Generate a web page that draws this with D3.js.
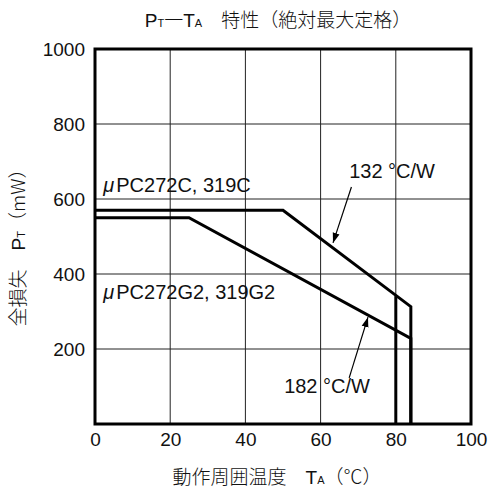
<!DOCTYPE html>
<html>
<head>
<meta charset="utf-8">
<script src="https://cdn.jsdelivr.net/npm/d3@7"></script>
<style>
  body { margin: 0; background: #fff; }
  text { font-family: "Liberation Sans", "Noto Sans CJK JP", sans-serif; fill: #111; }
  .cjk { font-family: "Noto Sans CJK JP", sans-serif; font-weight: 300; }
</style>
</head>
<body>
<svg></svg>
<script>
const width = 489;
const height = 496;

// ambient temperature (°C) vs total power dissipation (mW)
const curveDip = [[0, 570], [50, 570], [84, 313], [84, 0]];     // 132 °C/W
const curveSop = [[0, 550], [25, 550], [84, 228], [84, 0]];     // 182 °C/W
const limit80 = [[80, 341], [80, 0]];
const xTicks = [0, 20, 40, 60, 80, 100];
const yTicks = [200, 400, 600, 800, 1000];

const margin = { top: 49, right: 18, bottom: 72, left: 95 };

const svg = d3.select("svg").attr("width", width).attr("height", height);

const x = d3.scaleLinear().domain([0, 100]).range([margin.left, width - margin.right]);
const y = d3.scaleLinear().domain([0, 1000]).range([height - margin.bottom, margin.top]);

// grid
svg.append("g")
  .selectAll("line")
  .data([20, 40, 60, 80])
  .join("line")
  .attr("x1", (d) => x(d)).attr("x2", (d) => x(d))
  .attr("y1", y(0)).attr("y2", y(1000))
  .attr("stroke", "#222").attr("stroke-width", 1);

svg.append("g")
  .selectAll("line")
  .data([200, 400, 600, 800])
  .join("line")
  .attr("x1", x(0)).attr("x2", x(100))
  .attr("y1", (d) => y(d)).attr("y2", (d) => y(d))
  .attr("stroke", "#222").attr("stroke-width", 1);

// frame
svg.append("rect")
  .attr("x", x(0)).attr("y", y(1000))
  .attr("width", x(100) - x(0)).attr("height", y(0) - y(1000))
  .attr("fill", "none").attr("stroke", "#000").attr("stroke-width", 3);

// axes (labels only)
const xAxis = svg.append("g")
  .attr("transform", `translate(0,${y(0)})`)
  .call(d3.axisBottom(x).tickValues(xTicks).tickFormat(d3.format("d")).tickSize(0).tickPadding(9));
const yAxis = svg.append("g")
  .attr("transform", `translate(${x(0)},0)`)
  .call(d3.axisLeft(y).tickValues(yTicks).tickFormat(d3.format("d")).tickSize(0).tickPadding(10));
[xAxis, yAxis].forEach((g) => {
  g.select(".domain").remove();
  g.selectAll("text")
    .attr("font-family", "Liberation Sans, sans-serif")
    .attr("font-size", 19)
    .attr("fill", "#111");
});

// curves
const line = d3.line().x((d) => x(d[0])).y((d) => y(d[1]));
svg.selectAll("path.curve")
  .data([curveDip, curveSop, limit80])
  .join("path")
  .attr("class", "curve")
  .attr("d", line)
  .attr("fill", "none")
  .attr("stroke", "#000")
  .attr("stroke-width", 3)
  .attr("stroke-linejoin", "miter");

// arrows
svg.append("defs").append("marker")
  .attr("id", "arrow")
  .attr("viewBox", "0 0 10 10")
  .attr("refX", 10).attr("refY", 5)
  .attr("markerWidth", 10).attr("markerHeight", 10)
  .attr("markerUnits", "userSpaceOnUse")
  .attr("orient", "auto")
  .append("path")
  .attr("d", "M0,1.5 L10,5 L0,8.5 Z")
  .attr("fill", "#000");

const arrows = [
  { from: [68.2, 632], to: [63.3, 483] },
  { from: [67.6, 123], to: [72.6, 285] },
];
svg.selectAll("line.arrow")
  .data(arrows)
  .join("line")
  .attr("x1", (d) => x(d.from[0])).attr("y1", (d) => y(d.from[1]))
  .attr("x2", (d) => x(d.to[0])).attr("y2", (d) => y(d.to[1]))
  .attr("stroke", "#000").attr("stroke-width", 1.2)
  .attr("marker-end", "url(#arrow)");

// curve labels
const labels = [
  { t: "μ", rest: "PC272C, 319C", at: [2.2, 620] },
  { t: "μ", rest: "PC272G2, 319G2", at: [2.2, 333] },
];
labels.forEach((l) => {
  const tx = svg.append("text")
    .attr("x", x(l.at[0])).attr("y", y(l.at[1]))
    .attr("font-size", 20);
  tx.append("tspan").attr("font-style", "italic").text(l.t);
  tx.append("tspan").attr("dx", 2).text(l.rest);
});

svg.append("text")
  .attr("x", x(67.6)).attr("y", y(655))
  .attr("font-size", 20)
  .text("132 °C/W");
svg.append("text")
  .attr("x", x(50.3)).attr("y", y(82))
  .attr("font-size", 20)
  .text("182 °C/W");

// title
const title = svg.append("text")
  .attr("x", 278).attr("y", 27)
  .attr("text-anchor", "middle")
  .attr("font-size", 19);
title.append("tspan").text("P");
title.append("tspan").attr("font-size", 11).text("T");
title.append("tspan").attr("class", "cjk").text("一");
title.append("tspan").text("T");
title.append("tspan").attr("font-size", 11).text("A");
title.append("tspan").attr("class", "cjk").text("　特性（絶対最大定格）");

// x title
const xt = svg.append("text")
  .attr("x", 277).attr("y", 484)
  .attr("text-anchor", "middle")
  .attr("font-size", 19);
xt.append("tspan").attr("class", "cjk").text("動作周囲温度　");
xt.append("tspan").text("T");
xt.append("tspan").attr("font-size", 11).text("A");
xt.append("tspan").attr("class", "cjk").text("（℃）");

// y title
const yt = svg.append("text")
  .attr("transform", "translate(25,243) rotate(-90)")
  .attr("text-anchor", "middle")
  .attr("font-size", 19);
yt.append("tspan").attr("class", "cjk").text("全損失　");
yt.append("tspan").text("P");
yt.append("tspan").attr("font-size", 11).text("T");
yt.append("tspan").attr("class", "cjk").text("（mW）");
</script>
</body>
</html>
